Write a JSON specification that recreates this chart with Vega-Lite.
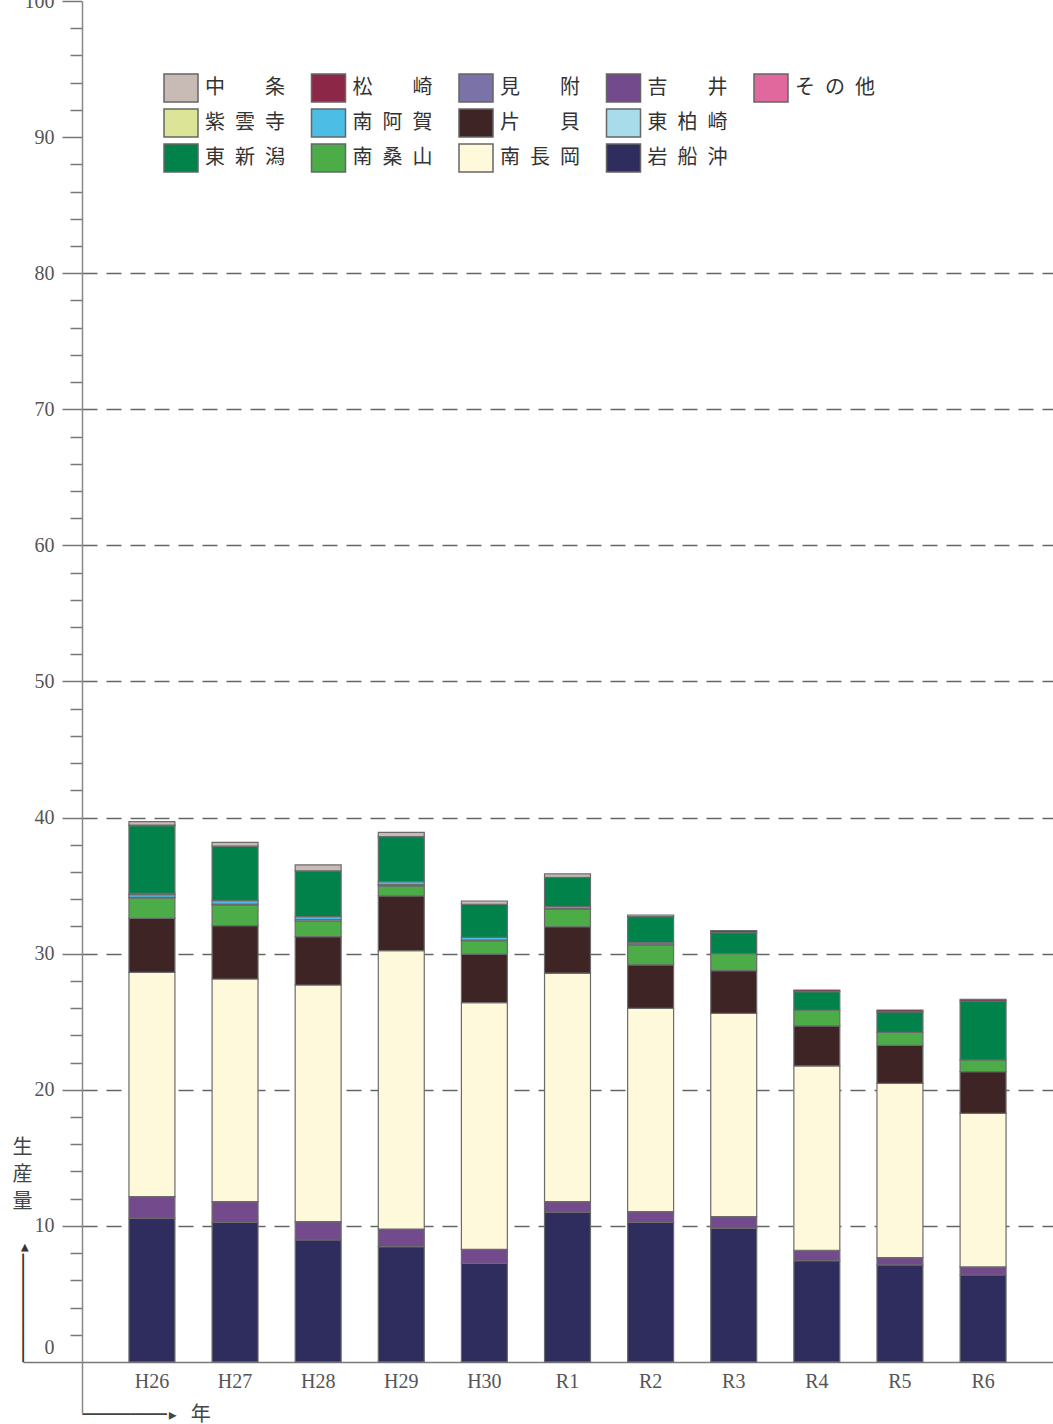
{
  "$schema": "https://vega.github.io/schema/vega-lite/v6.json",
  "width": 971,
  "height": 1412,
  "autosize": {"type": "none"},
  "padding": {"left": 82, "top": 1, "right": 0, "bottom": 11},
  "background": "white",
  "config": {"view": {"stroke": null}, "font": "Liberation Serif, Noto Sans CJK JP"},
  "title": {
    "text": "─────────▸", "orient": "left", "anchor": "start", "frame": "group",
    "font": "DejaVu Sans Mono", "fontSize": 20, "fontWeight": "normal", "color": "#333",
    "offset": 0, "baseline": "alphabetic", "dx": 51, "dy": 38
  },
  "data": {"values": [
    {"年": "H26", "産地": "岩船沖", "生産量": 10.56},
    {"年": "H26", "産地": "吉井", "生産量": 1.59},
    {"年": "H26", "産地": "南長岡", "生産量": 16.48},
    {"年": "H26", "産地": "片貝", "生産量": 3.97},
    {"年": "H26", "産地": "南桑山", "生産量": 1.49},
    {"年": "H26", "産地": "東柏崎", "生産量": 0.05},
    {"年": "H26", "産地": "南阿賀", "生産量": 0.2},
    {"年": "H26", "産地": "見附", "生産量": 0.1},
    {"年": "H26", "産地": "東新潟", "生産量": 4.96},
    {"年": "H26", "産地": "松崎", "生産量": 0.05},
    {"年": "H26", "産地": "中条", "生産量": 0.25},
    {"年": "H27", "産地": "岩船沖", "生産量": 10.26},
    {"年": "H27", "産地": "吉井", "生産量": 1.52},
    {"年": "H27", "産地": "南長岡", "生産量": 16.36},
    {"年": "H27", "産地": "片貝", "生産量": 3.92},
    {"年": "H27", "産地": "南桑山", "生産量": 1.52},
    {"年": "H27", "産地": "東柏崎", "生産量": 0.07},
    {"年": "H27", "産地": "南阿賀", "生産量": 0.25},
    {"年": "H27", "産地": "東新潟", "生産量": 4.0},
    {"年": "H27", "産地": "中条", "生産量": 0.28},
    {"年": "H28", "産地": "岩船沖", "生産量": 8.96},
    {"年": "H28", "産地": "吉井", "生産量": 1.35},
    {"年": "H28", "産地": "南長岡", "生産量": 17.39},
    {"年": "H28", "産地": "片貝", "生産量": 3.55},
    {"年": "H28", "産地": "南桑山", "生産量": 1.15},
    {"年": "H28", "産地": "東柏崎", "生産量": 0.1},
    {"年": "H28", "産地": "南阿賀", "生産量": 0.22},
    {"年": "H28", "産地": "東新潟", "生産量": 3.36},
    {"年": "H28", "産地": "中条", "生産量": 0.44},
    {"年": "H29", "産地": "岩船沖", "生産量": 8.47},
    {"年": "H29", "産地": "吉井", "生産量": 1.3},
    {"年": "H29", "産地": "南長岡", "生産量": 20.46},
    {"年": "H29", "産地": "片貝", "生産量": 4.01},
    {"年": "H29", "産地": "南桑山", "生産量": 0.74},
    {"年": "H29", "産地": "東柏崎", "生産量": 0.09},
    {"年": "H29", "産地": "南阿賀", "生産量": 0.22},
    {"年": "H29", "産地": "東新潟", "生産量": 3.31},
    {"年": "H29", "産地": "中条", "生産量": 0.32},
    {"年": "H30", "産地": "岩船沖", "生産量": 7.25},
    {"年": "H30", "産地": "吉井", "生産量": 1.03},
    {"年": "H30", "産地": "南長岡", "生産量": 18.12},
    {"年": "H30", "産地": "片貝", "生産量": 3.57},
    {"年": "H30", "産地": "南桑山", "生産量": 0.95},
    {"年": "H30", "産地": "東柏崎", "生産量": 0.08},
    {"年": "H30", "産地": "南阿賀", "生産量": 0.2},
    {"年": "H30", "産地": "東新潟", "生産量": 2.43},
    {"年": "H30", "産地": "中条", "生産量": 0.24},
    {"年": "R1", "産地": "岩船沖", "生産量": 11.0},
    {"年": "R1", "産地": "吉井", "生産量": 0.78},
    {"年": "R1", "産地": "南長岡", "生産量": 16.79},
    {"年": "R1", "産地": "片貝", "生産量": 3.41},
    {"年": "R1", "産地": "南桑山", "生産量": 1.28},
    {"年": "R1", "産地": "東柏崎", "生産量": 0.06},
    {"年": "R1", "産地": "南阿賀", "生産量": 0.13},
    {"年": "R1", "産地": "東新潟", "生産量": 2.16},
    {"年": "R1", "産地": "中条", "生産量": 0.25},
    {"年": "R2", "産地": "岩船沖", "生産量": 10.26},
    {"年": "R2", "産地": "吉井", "生産量": 0.78},
    {"年": "R2", "産地": "南長岡", "生産量": 14.94},
    {"年": "R2", "産地": "片貝", "生産量": 3.19},
    {"年": "R2", "産地": "南桑山", "生産量": 1.47},
    {"年": "R2", "産地": "見附", "生産量": 0.17},
    {"年": "R2", "産地": "東新潟", "生産量": 1.91},
    {"年": "R2", "産地": "中条", "生産量": 0.12},
    {"年": "R3", "産地": "岩船沖", "生産量": 9.82},
    {"年": "R3", "産地": "吉井", "生産量": 0.86},
    {"年": "R3", "産地": "南長岡", "生産量": 14.94},
    {"年": "R3", "産地": "片貝", "生産量": 3.13},
    {"年": "R3", "産地": "南桑山", "生産量": 1.25},
    {"年": "R3", "産地": "東新潟", "生産量": 1.55},
    {"年": "R3", "産地": "松崎", "生産量": 0.14},
    {"年": "R4", "産地": "岩船沖", "生産量": 7.44},
    {"年": "R4", "産地": "吉井", "生産量": 0.77},
    {"年": "R4", "産地": "南長岡", "生産量": 13.54},
    {"年": "R4", "産地": "片貝", "生産量": 2.94},
    {"年": "R4", "産地": "南桑山", "生産量": 1.17},
    {"年": "R4", "産地": "東新潟", "生産量": 1.35},
    {"年": "R4", "産地": "松崎", "生産量": 0.12},
    {"年": "R5", "産地": "岩船沖", "生産量": 7.13},
    {"年": "R5", "産地": "吉井", "生産量": 0.53},
    {"年": "R5", "産地": "南長岡", "生産量": 12.81},
    {"年": "R5", "産地": "片貝", "生産量": 2.8},
    {"年": "R5", "産地": "南桑山", "生産量": 0.95},
    {"年": "R5", "産地": "東新潟", "生産量": 1.5},
    {"年": "R5", "産地": "松崎", "生産量": 0.14},
    {"年": "R6", "産地": "岩船沖", "生産量": 6.39},
    {"年": "R6", "産地": "吉井", "生産量": 0.59},
    {"年": "R6", "産地": "南長岡", "生産量": 11.29},
    {"年": "R6", "産地": "片貝", "生産量": 3.06},
    {"年": "R6", "産地": "南桑山", "生産量": 0.86},
    {"年": "R6", "産地": "東新潟", "生産量": 4.32},
    {"年": "R6", "産地": "松崎", "生産量": 0.14}
  ]},
  "transform": [
    {"calculate": "indexof(['岩船沖','吉井','南長岡','片貝','南桑山','東柏崎','南阿賀','見附','東新潟','紫雲寺','松崎','中条','その他'], datum['産地'])", "as": "積順"}
  ],
  "mark": {"type": "bar", "stroke": "#6b6b6b", "strokeWidth": 1.2},
  "encoding": {
    "x": {
      "field": "年", "type": "nominal",
      "sort": ["H26", "H27", "H28", "H29", "H30", "R1", "R2", "R3", "R4", "R5", "R6"],
      "scale": {"paddingInner": 0.447, "paddingOuter": 0.565},
      "axis": {
        "title": "───────▸ 年", "orient": "bottom", "offset": -51,
        "domainColor": "#7a7a7a", "domainWidth": 1.5, "ticks": false,
        "labelAngle": 0, "labelFontSize": 20, "labelColor": "#555", "labelPadding": 9,
        "titleX": 0, "titleY": 58, "titleFontSize": 20, "titleFontWeight": "normal",
        "titleFont": "DejaVu Sans Mono, Noto Sans CJK JP",
        "titleColor": "#444", "titleAlign": "left", "titleBaseline": "alphabetic", "titleAnchor": null
      }
    },
    "y": {
      "field": "生産量", "type": "quantitative",
      "scale": {"domain": [-3.75, 100], "nice": false, "zero": false},
      "axis": {
        "values": [0, 2, 4, 6, 8, 10, 12, 14, 16, 18, 20, 22, 24, 26, 28, 30, 32, 34, 36, 38, 40, 42, 44, 46, 48, 50, 52, 54, 56, 58, 60, 62, 64, 66, 68, 70, 72, 74, 76, 78, 80, 82, 84, 86, 88, 90, 92, 94, 96, 98, 100],
        "labelExpr": "datum.value % 10 === 0 ? datum.label : ''",
        "labelOverlap": false, "labelFlush": false,
        "tickSize": {"condition": [{"test": "datum.value === 0", "value": 59}, {"test": "datum.value % 10 !== 0", "value": 12}], "value": 20},
        "labelOffset": {"condition": {"test": "datum.value === 0", "value": -14}, "value": 0},
        "labelPadding": {"condition": {"test": "datum.value === 0", "value": -31}, "value": 8},
        "grid": true, "gridDash": [15, 9], "gridColor": "#666", "gridWidth": 1.3,
        "gridOpacity": {"condition": {"test": "datum.value >= 10 && datum.value <= 80 && datum.value % 10 === 0", "value": 1}, "value": 0},
        "domainColor": "#888", "domainWidth": 1.5, "tickColor": "#777", "tickWidth": 1.5,
        "labelFontSize": 20, "labelColor": "#555",
        "title": ["生", "産", "量"], "titleAngle": 0, "titleX": -60, "titleY": 1136,
        "titleFontSize": 20, "titleLineHeight": 27, "titleBaseline": "top", "titleAlign": "center",
        "titleFontWeight": "normal", "titleColor": "#444"
      }
    },
    "order": {"field": "積順", "type": "quantitative", "sort": "ascending"},
    "color": {
      "field": "産地", "type": "nominal",
      "scale": {
        "domain": ["その他", "中条", "松崎", "紫雲寺", "東新潟", "見附", "南阿賀", "東柏崎", "南桑山", "片貝", "南長岡", "吉井", "岩船沖"],
        "range": ["#e0689c", "#c8bab5", "#8c2748", "#dce497", "#00824a", "#7b72a8", "#4cbde4", "#a8dcea", "#4bac48", "#3f2426", "#fdf9da", "#734a8c", "#2e2d5e"]
      },
      "legend": {
        "orient": "none", "legendX": 81, "legendY": 69, "columns": 5, "direction": "horizontal",
        "values": ["中条", "松崎", "見附", "吉井", "その他", "紫雲寺", "南阿賀", "片貝", "東柏崎", " ", "東新潟", "南桑山", "南長岡", "岩船沖"],
        "title": null,
        "symbolType": "M-1,-0.82H1V0.82H-1Z", "symbolSize": 1156,
        "symbolStrokeColor": "#666", "symbolStrokeWidth": 1.5, "symbolOpacity": 1,
        "labelFontSize": 20, "labelColor": "#333", "labelOffset": 6, "labelLimit": 300,
        "columnPadding": 23.5, "rowPadding": -3.5,
        "labelExpr": "length(datum.label) === 2 ? substring(datum.label,0,1) + '\u3000\u3000' + substring(datum.label,1,2) : (length(datum.label) === 3 ? substring(datum.label,0,1) + '\u2002' + substring(datum.label,1,2) + '\u2002' + substring(datum.label,2,3) : datum.label)",
        "encode": {"symbols": {"update": {"opacity": [{"test": "datum.value === ' '", "value": 0}, {"value": 1}]}}}
      }
    }
  }
}
